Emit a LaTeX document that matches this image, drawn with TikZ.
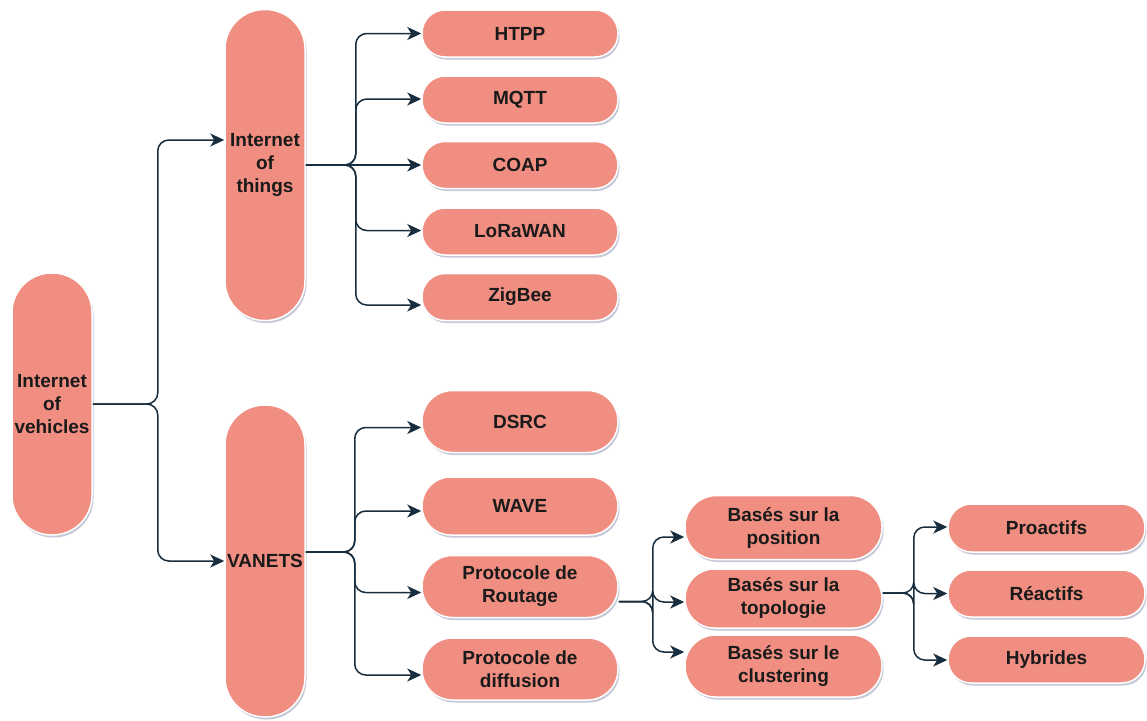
\documentclass[tikz,border=0pt]{standalone}
\usepackage{fontspec}
\setmainfont{Liberation Sans}
\usetikzlibrary{shadows,arrows.meta}
\definecolor{boxfill}{HTML}{F08E81}
\definecolor{txt}{HTML}{1A1A1A}
\definecolor{linec}{HTML}{182E3E}
\definecolor{shade}{HTML}{8A92B0}
\begin{document}
\begin{tikzpicture}[x=1pt,y=-1pt,
  box/.style={draw=white, line width=1.5pt, fill=boxfill, text=txt,
    font=\bfseries\fontsize{19}{23}\selectfont, align=center, inner sep=0pt,
    drop shadow={shadow xshift=1.5pt, shadow yshift=-2.5pt, fill=shade, opacity=0.5}},
  vpill/.style={box, minimum width=80pt, rounded corners=39.5pt},
  leaf/.style={box, minimum width=196pt, minimum height=#1pt, rounded corners={#1*0.5pt-0.5pt}},
  conn/.style={draw=linec, line width=1.5pt, rounded corners=11pt,
    -{Stealth[length=14pt,width=13pt,inset=4pt]}}]
\useasboundingbox (0,0) rectangle (1147,720);
\fill[white] (0,0) rectangle (1147,720);

% main pills
\node[vpill, minimum height=262pt] (iov) at (52,404) {Internet\\of\\vehicles};
\node[vpill, minimum height=311pt] (iot) at (265,165) {Internet\\of\\things};
\node[vpill, minimum height=312pt] (vanets) at (265,561) {VANETS};

% IoT children
\node[leaf=47] (htpp) at (520,33.5) {HTPP};
\node[leaf=47] (mqtt) at (520,99.5) {MQTT};
\node[leaf=47] (coap) at (520,165) {COAP};
\node[leaf=47] (lora) at (520,231.5) {LoRaWAN};
\node[leaf=47] (zig)  at (520,297) {ZigBee};

% VANETS children
\node[leaf=62] (dsrc) at (520,421.5) {DSRC};
\node[leaf=58] (wave) at (520,506) {WAVE};
\node[leaf=62] (rout) at (520,586.5) {Protocole de\\Routage};
\node[leaf=62] (diff) at (520,669) {Protocole de\\diffusion};

% Routage children
\node[leaf=64, minimum width=197pt] (pos)  at (783.5,527.5) {Basés sur la\\position};
\node[leaf=59, minimum width=197pt] (topo) at (783.5,598.5) {Basés sur la\\topologie};
\node[leaf=62, minimum width=197pt] (clus) at (783.5,666) {Basés sur le\\clustering};

% Topologie children
\node[leaf=48, minimum width=197pt] (pro) at (1046.5,528) {Proactifs};
\node[leaf=47, minimum width=197pt] (rea) at (1046.5,593.5) {Réactifs};
\node[leaf=47, minimum width=197pt] (hyb) at (1046.5,659.5) {Hybrides};

% connectors from IoV
\draw[conn] (iov.east) -- ++(65,0) |- ([yshift=25pt]iot.west);
\draw[conn] (iov.east) -- ++(65,0) |- (vanets.west);

% connectors from IoT
\draw[conn] (iot.east) -- ++(50,0) |- (htpp.west);
\draw[conn] (iot.east) -- ++(50,0) |- ([yshift=0.5pt]mqtt.west);
\draw[conn] (iot.east) -- (coap.west);
\draw[conn] (iot.east) -- ++(50,0) |- ([yshift=1pt]lora.west);
\draw[conn] (iot.east) -- ++(50,0) |- ([yshift=-8pt]zig.west);

% connectors from VANETS
\draw[conn] ([yshift=9pt]vanets.east) -- ++(49,0) |- ([yshift=-6pt]dsrc.west);
\draw[conn] ([yshift=9pt]vanets.east) -- ++(49,0) |- ([yshift=-5pt]wave.west);
\draw[conn] ([yshift=9pt]vanets.east) -- ++(49,0) |- ([yshift=-6pt]rout.west);
\draw[conn] ([yshift=9pt]vanets.east) -- ++(49,0) |- ([yshift=-6pt]diff.west);

% connectors from Routage
\draw[conn] ([yshift=-15pt]rout.east) -- ++(34,0) |- ([yshift=-9.5pt]pos.west);
\draw[conn] ([yshift=-15pt]rout.east) -- ++(34,0) |- ([yshift=-3.5pt]topo.west);
\draw[conn] ([yshift=-15pt]rout.east) -- ++(34,0) |- ([yshift=14pt]clus.west);

% connectors from Topologie
\draw[conn] ([yshift=5.5pt]topo.east) -- ++(31,0) |- ([yshift=1pt]pro.west);
\draw[conn] ([yshift=5.5pt]topo.east) -- ++(31,0) |- (rea.west);
\draw[conn] ([yshift=5.5pt]topo.east) -- ++(31,0) |- ([yshift=-0.5pt]hyb.west);
\end{tikzpicture}
\end{document}
